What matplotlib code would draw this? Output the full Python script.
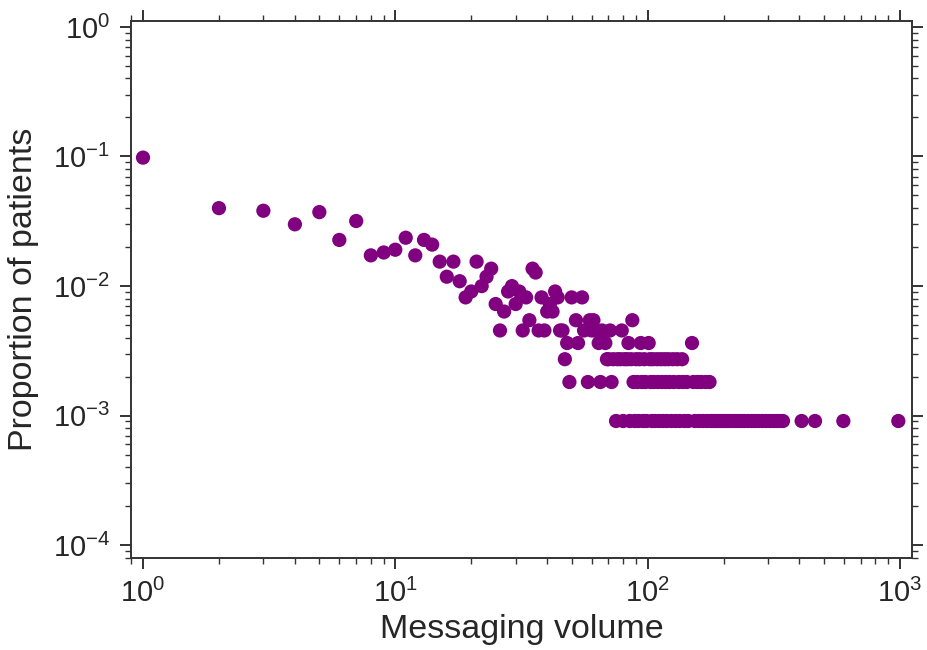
import numpy as np
import matplotlib
matplotlib.use("Agg")
from matplotlib import pyplot as plt

plt.rcParams['font.family'] = ['Liberation Sans', 'DejaVu Sans']
plt.rcParams['mathtext.fontset'] = 'custom'
plt.rcParams['mathtext.rm'] = 'Liberation Sans'
plt.rcParams['mathtext.it'] = 'Liberation Sans:italic'
plt.rcParams['axes.unicode_minus'] = False

# число пациентов (знаменатель для долей)
n_patients = 1102

# объём сообщений и число пациентов с таким объёмом
volume = [1, 2, 3, 4, 5, 6, 7, 8, 9, 10, 11, 12, 13, 14, 15, 16, 17, 18, 19, 20,
          21, 22, 23, 24, 25, 26, 27, 28, 29, 30, 31, 32, 33, 34, 35, 36, 37, 38, 39, 40,
          41, 42, 43, 44, 45, 46, 47, 48, 49, 50, 52, 53, 55, 56, 58, 59, 60, 61, 62, 64,
          65, 66, 68, 69, 70, 71, 72, 73, 75, 76, 78, 79, 80, 81, 83, 84, 85, 86, 87, 88,
          89, 90, 91, 92, 93, 94, 95, 96, 97, 98, 99, 101, 102, 103, 104, 105, 106, 107, 109, 110,
          111, 113, 114, 115, 117, 118, 119, 121, 122, 124, 126, 127, 129, 131, 133, 134, 137, 138, 140, 143,
          145, 150, 152, 154, 158, 160, 163, 166, 170, 172, 176, 178, 182, 186, 190, 195, 200, 205, 210, 216,
          222, 228, 235, 242, 250, 258, 266, 275, 285, 295, 305, 315, 325, 335, 344, 408, 461, 597, 986]
counts = [108, 44, 42, 33, 41, 25, 35, 19, 20, 21, 26, 19, 25, 23, 17, 13, 17, 12, 9, 10,
          17, 11, 13, 15, 8, 5, 7, 10, 11, 8, 10, 5, 9, 6, 15, 14, 5, 9, 5, 7,
          8, 7, 10, 9, 5, 5, 3, 4, 2, 9, 6, 4, 9, 5, 2, 6, 5, 6, 5, 4,
          2, 5, 4, 3, 3, 5, 2, 3, 1, 3, 3, 5, 1, 3, 3, 4, 1, 3, 6, 2,
          1, 3, 2, 1, 3, 4, 2, 1, 3, 2, 1, 4, 3, 2, 1, 3, 2, 1, 3, 2,
          1, 3, 2, 1, 3, 2, 1, 3, 2, 1, 3, 2, 1, 3, 2, 1, 3, 2, 1, 2,
          1, 4, 2, 1, 2, 1, 2, 1, 2, 1, 2, 1, 1, 1, 1, 1, 1, 1, 1, 1,
          1, 1, 1, 1, 1, 1, 1, 1, 1, 1, 1, 1, 1, 1, 1, 1, 1, 1, 1]

x = np.array(volume)
y = np.array(counts) / n_patients

fig = plt.figure(figsize=(9.27, 6.5), dpi=100)
ax = fig.add_axes([0.1413, 0.1415, 0.8425, 0.8262])
ax.scatter(x, y, s=105, color='purple', edgecolor='none', zorder=3)
ax.set_xscale('log')
ax.set_yscale('log')
ax.set_xlim(10 ** -0.0476, 10 ** 3.048)
ax.set_ylim(10 ** -4.1, 10 ** 0.046)

ax.set_xlabel('Messaging volume', fontsize=24.5, color='#262626', labelpad=4)
ax.set_ylabel('Proportion of patients', fontsize=24.5, color='#262626', labelpad=10)

for s in ax.spines.values():
    s.set_color('#333333')
    s.set_linewidth(1.4)
ax.tick_params(which='both', direction='out', top=True, right=True, colors='#333333')
ax.tick_params(which='major', length=8, width=1.4, labelsize=21, labelcolor='#262626', pad=7)
ax.tick_params(which='minor', length=4, width=1.0)

fig.savefig('out.png', dpi=100)
